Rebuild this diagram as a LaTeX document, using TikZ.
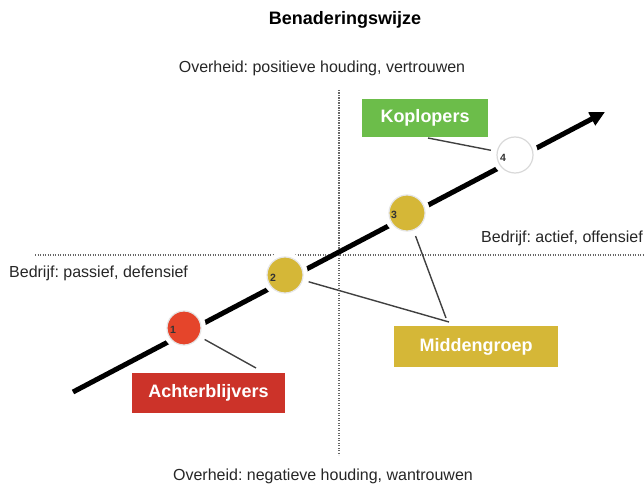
\documentclass[tikz,border=0pt]{standalone}
\usepackage{fontspec}
\setmainfont{Liberation Sans}
\usetikzlibrary{arrows.meta}
\definecolor{kgreen}{HTML}{6CBD4A}
\definecolor{mgold}{HTML}{D5B737}
\definecolor{ared}{HTML}{CC3329}
\definecolor{cred}{HTML}{E5452B}
\begin{document}
\frenchspacing
\begin{tikzpicture}[x=1pt,y=-1pt,
  lbl/.style={font=\fontsize{16}{18}\selectfont, text=black!85, inner sep=0pt},
  titlestyle/.style={font=\bfseries\fontsize{18}{20}\selectfont, text=black, inner sep=0pt},
  box/.style={font=\bfseries\fontsize{18}{20}\selectfont, text=white, inner sep=0pt},
  disc/.style={circle, minimum size=36pt, inner sep=0pt, draw=black!10, line width=1.2pt,
               preaction={draw=white, line width=10pt}},
  num/.style={font=\bfseries\fontsize{10.5}{11}\selectfont, text=black!80, inner sep=0pt},
  conn/.style={draw=black!75, line width=1.4pt, shorten >=6pt},
  dotline/.style={draw=black!60, line width=1.3pt, dash pattern=on 1.2pt off 1.3pt},
  mainarrow/.style={draw=black, line width=5pt, -{Triangle[length=15pt,width=14pt]}}
]
\useasboundingbox (0,0) rectangle (644,486);

% texts
\node[titlestyle] (title) at (345,20) {Benaderingswijze};
\node[lbl] (otop) at (322,68) {Overheid: positieve houding, vertrouwen};
\node[lbl] (obot) at (323,476) {Overheid: negatieve houding, wantrouwen};
\node[lbl, anchor=west] (bleft) at (9,273) {Bedrijf: passief, defensief};
\node[lbl, anchor=west] (bright) at (481,238) {Bedrijf: actief, offensief};

% axes
\coordinate (vtop) at (339,90);
\coordinate (vbot) at (339,455);
\coordinate (hl) at (35,255);
\coordinate (hr) at (644,255);
\draw[dotline] (vtop) -- (vbot);
\draw[dotline] (hl) -- (hr);

% main arrow
\coordinate (start) at (73,392);
\coordinate (end) at (605,112);
\draw[mainarrow] (start) -- (end);

% circles
\node[disc, fill=cred, minimum size=34pt] (c1) at (184,328) {};
\node[disc, fill=mgold] (c2) at (285,275) {};
\node[disc, fill=mgold] (c3) at (407,213) {};
\node[disc, fill=white, draw=black!15] (c4) at (515,155) {};
\node[num] (n1) at ([shift={(-11,2)}]c1.center) {1};
\node[num] (n2) at ([shift={(-12,3)}]c2.center) {2};
\node[num] (n3) at ([shift={(-13,2)}]c3.center) {3};
\node[num] (n4) at ([shift={(-12,3)}]c4.center) {4};

% boxes
\node[box, fill=kgreen, minimum width=126pt, minimum height=38pt] (kop) at (425,118) {Koplopers};
\node[box, fill=ared, minimum width=153pt, minimum height=40pt] (ach) at (208.5,393) {Achterblijvers};
\node[box, fill=mgold, minimum width=164pt, minimum height=41pt] (mid) at (476,346.5) {Middengroep};

% connectors
\coordinate (kopc) at (428,138);
\coordinate (achc) at (256,368);
\coordinate (mida) at (446,318);
\coordinate (midb) at (449,322);
\draw[conn] (kopc) -- (c4);
\draw[conn] (achc) -- (c1);
\draw[conn] (mida) -- (c3);
\draw[conn] (midb) -- (c2);
\end{tikzpicture}
\end{document}
